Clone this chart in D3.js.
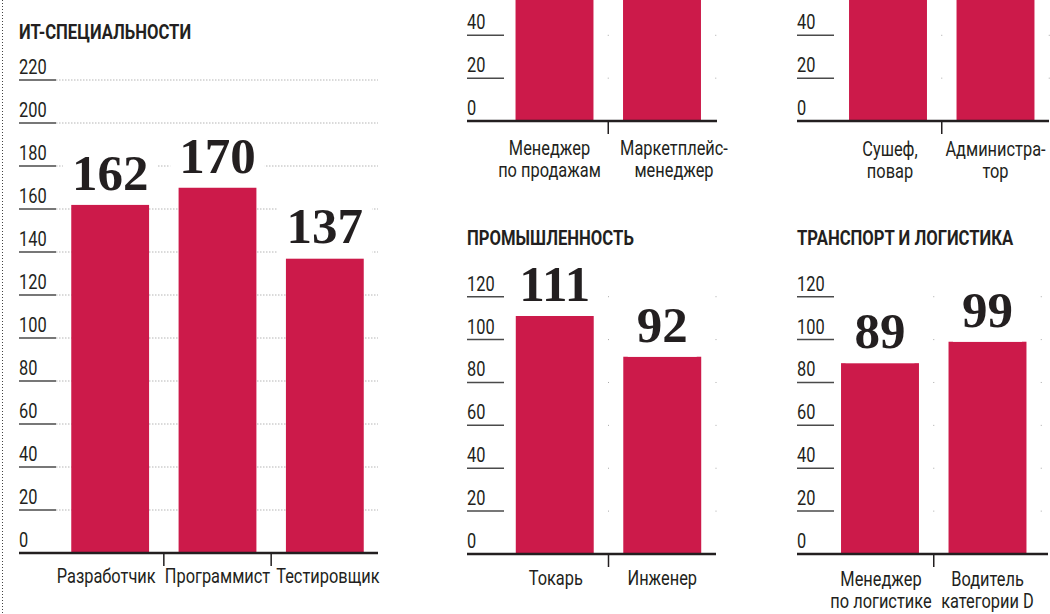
<!DOCTYPE html>
<html><head><meta charset="utf-8">
<script src="https://cdn.jsdelivr.net/npm/d3@7"></script>
<style>
html,body{margin:0;padding:0;background:#fff;overflow:hidden}
.cat,.tick{font-family:"Roboto","DejaVu Sans Condensed",sans-serif;font-size:20px;fill:#231f20}
.title{font-family:"Roboto","DejaVu Sans Condensed",sans-serif;font-size:19.5px;font-weight:bold;fill:#231f20}
.val{font-family:"Liberation Serif","DejaVu Serif",serif;font-size:51px;font-weight:bold;fill:#231f20}
</style></head>
<body>
<svg id="c" width="1050" height="614"></svg>
<script>
// ---- data ----
const itTitle = "ИТ-СПЕЦИАЛЬНОСТИ";
const itCategories = [["Разработчик"], ["Программист"], ["Тестировщик"]];
const itValues = [162, 170, 137];
const itTicks = [0, 20, 40, 60, 80, 100, 120, 140, 160, 180, 200, 220];

const salesCategories = [["Менеджер", "по продажам"], ["Маркетплейс-", "менеджер"]];
const salesValues = [120, 115];   // bars run off the top of the picture (estimated)

const horecaCategories = [["Сушеф,", "повар"], ["Администра-", "тор"]];
const horecaValues = [95, 90];    // bars run off the top of the picture (estimated)

const industryTitle = "ПРОМЫШЛЕННОСТЬ";
const industryCategories = [["Токарь"], ["Инженер"]];
const industryValues = [111, 92];

const logisticsTitle = "ТРАНСПОРТ И ЛОГИСТИКА";
const logisticsCategories = [["Менеджер", "по логистике"], ["Водитель", "категории D"]];
const logisticsValues = [89, 99];

const smallTicks = [0, 20, 40, 60, 80, 100, 120];
const croppedTicks = [0, 20, 40];

// ---- layout ----
const BAR = "#cc1a4a", INK = "#231f20", SX = 0.82, TSX = 0.855;
const panels = [
  {title: itTitle, cats: itCategories, vals: itValues, ticks: itTicks, showVals: true,
   x0: 19, band: [56.5, 378.5], axisEnd: 378, y0: 553, dom: 220, yTop: 80, titleY: 39, labDy: 30,
   labShift: [-4, 0, 3], grid: true},
  {title: null, cats: salesCategories, vals: salesValues, ticks: croppedTicks, showVals: false,
   x0: 467, band: [500.75, 715.75], axisEnd: 717, y0: 121, dom: 40, yTop: 35.3, labDy: 34,
   labShift: [-5, 12], grid: false},
  {title: null, cats: horecaCategories, vals: horecaValues, ticks: croppedTicks, showVals: false,
   x0: 797, band: [834.25, 1049.25], axisEnd: 1049, y0: 121, dom: 40, yTop: 35.3, labDy: 35,
   labShift: [2, 0], grid: false},
  {title: industryTitle, cats: industryCategories, vals: industryValues, ticks: smallTicks, showVals: true,
   x0: 467, band: [501, 716], axisEnd: 716, y0: 554, dom: 120, yTop: 296.7, titleY: 245, labDy: 31,
   labShift: [1, 0], grid: false},
  {title: logisticsTitle, cats: logisticsCategories, vals: logisticsValues, ticks: smallTicks, showVals: true,
   x0: 797, band: [826.25, 1041.25], axisEnd: 1048, y0: 554, dom: 120, yTop: 296.7, titleY: 245, labDy: 32,
   labShift: [1, 0], grid: false}
];

const svg = d3.select("#c");
svg.append("rect").attr("width", 1050).attr("height", 614).attr("fill", "#fff");
svg.append("line").attr("x1", 2.5).attr("x2", 2.5).attr("y1", 0).attr("y2", 614)
  .attr("stroke", "#444").attr("stroke-width", 1).attr("stroke-dasharray", "1,2");

// condensed text helper
function ctext(g, cls, x, y, anchor, sx) {
  return g.append("text").attr("class", cls).attr("text-anchor", anchor || "start")
    .attr("transform", `translate(${x},${y}) scale(${sx || SX},1)`);
}

panels.forEach(p => {
  const g = svg.append("g");
  const keys = p.cats.map(c => c.join(" "));
  const x = d3.scaleBand().domain(keys).range(p.band).paddingInner(0.275).paddingOuter(0.1375);
  const y = d3.scaleLinear().domain([0, p.dom]).range([p.y0, p.yTop]);
  const step = x.step();
  const sepX = k => x(k) - x.paddingInner() * step / 2;

  if (p.title) ctext(g, "title", p.x0, p.titleY, "start", TSX).text(p.title);

  // gridlines
  const gt = p.ticks.filter(t => t > 0);
  if (p.grid) {
    g.selectAll(".grid").data(gt).join("line")
      .attr("x1", p.x0 + 37).attr("x2", p.axisEnd)
      .attr("y1", d => y(d)).attr("y2", d => y(d))
      .attr("stroke", "#b5b5b5").attr("stroke-width", 1).attr("stroke-dasharray", "1.5,1.5");
  } else {
    const dotsX = keys.slice(1).map(sepX).concat([p.band[1]]);
    gt.forEach(t => dotsX.forEach(dx => {
      g.append("rect").attr("x", dx - 0.5).attr("y", y(t) - 0.5).attr("width", 1).attr("height", 1).attr("fill", "#aaa");
    }));
  }

  // y tick lines and labels
  g.selectAll(".tl").data(gt).join("line")
    .attr("x1", p.x0).attr("x2", p.x0 + 37)
    .attr("y1", d => y(d)).attr("y2", d => y(d))
    .attr("stroke", "#4a4a4a").attr("stroke-width", 1.5);
  p.ticks.forEach(t => ctext(g, "tick", p.x0, y(t) - 6).text(t));

  // bars
  g.selectAll(".bar").data(p.vals).join("rect")
    .attr("x", (d, i) => x(keys[i])).attr("width", x.bandwidth())
    .attr("y", d => y(d)).attr("height", d => p.y0 - y(d)).attr("fill", BAR);

  // value labels
  if (p.showVals) p.vals.forEach((v, i) => {
    const cx = x(keys[i]) + x.bandwidth() / 2;
    const t = g.append("text").attr("class", "val").attr("text-anchor", "middle")
      .attr("x", cx).attr("y", y(v) - 15).text(v);
    const bb = t.node().getBBox();
    g.insert("rect", () => t.node()).attr("x", bb.x - 9).attr("y", bb.y + 4)
      .attr("width", bb.width + 18).attr("height", Math.max(0, y(v) - bb.y - 4)).attr("fill", "#fff");
  });

  // axis baseline
  g.append("line").attr("x1", p.x0).attr("x2", p.axisEnd).attr("y1", p.y0).attr("y2", p.y0)
    .attr("stroke", INK).attr("stroke-width", 2.5);
  // separators
  keys.slice(1).forEach(k => {
    const sx = sepX(k);
    g.append("line").attr("x1", sx).attr("x2", sx).attr("y1", p.y0).attr("y2", p.y0 + 13)
      .attr("stroke", INK).attr("stroke-width", 1.5);
  });
  // category labels
  p.cats.forEach((lines, i) => {
    const cx = x(keys[i]) + x.bandwidth() / 2 + (p.labShift[i] || 0);
    const t = ctext(g, "cat", cx, p.y0 + p.labDy, "middle");
    lines.forEach((l, j) => t.append("tspan").attr("x", 0).attr("dy", j ? 22 : 0).text(l));
  });
});
</script>
</body></html>
